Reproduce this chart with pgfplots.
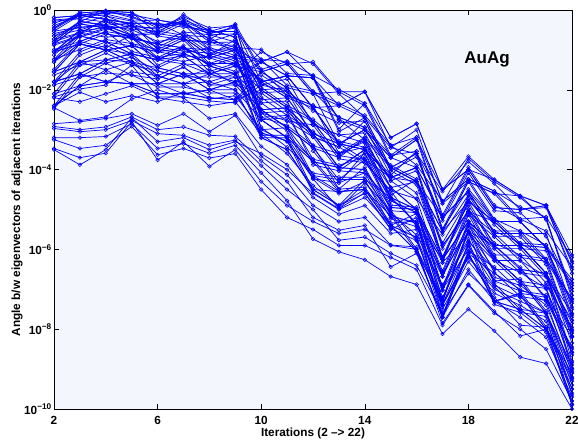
\documentclass[border=0pt]{standalone}
\usepackage{fontspec}
\setmainfont{Liberation Sans}
\usepackage{pgfplots}
\usepackage{pgfplotstable}
\pgfplotsset{compat=1.18}
\definecolor{bgc}{RGB}{243,247,253}
% one row per series, columns = iterations 2..22, values = log10(angle)
\pgfplotstableread[header=has colnames]{
2 3 4 5 6 7 8 9 10 11 12 13 14 15 16 17 18 19 20 21 22
-0.25 -0.20 -0.05 -0.12 -0.25 -0.35 -0.60 -0.42 -1.55 -1.95 -2.80 -3.65 -3.25 -3.95 -3.60 -5.55 -4.80 -5.30 -5.30 -5.95 -7.70
-0.45 -0.08 -0.02 -0.15 -0.45 -0.17 -0.45 -0.40 -2.50 -2.95 -3.45 -3.70 -3.20 -4.45 -5.00 -6.95 -5.30 -5.90 -6.50 -7.20 -8.50
-0.28 -0.22 -0.30 -0.40 -0.48 -0.20 -0.62 -0.80 -1.55 -1.35 -1.30 -2.05 -2.05 -3.20 -2.85 -4.50 -3.67 -4.25 -4.66 -4.90 -6.14
-0.45 -0.05 -0.10 -0.25 -0.65 -0.75 -0.80 -0.60 -3.00 -2.95 -3.80 -4.55 -4.50 -5.40 -5.70 -7.70 -6.10 -7.30 -7.10 -7.20 -8.20
-0.85 -0.35 -0.15 -0.28 -0.25 -0.38 -0.58 -0.45 -1.80 -1.65 -1.70 -3.05 -2.70 -3.45 -3.00 -4.85 -4.30 -5.30 -5.90 -5.95 -6.90
-0.48 -0.10 -0.15 -0.40 -0.65 -0.35 -1.00 -1.20 -2.50 -2.45 -3.40 -3.60 -3.30 -4.70 -5.00 -6.25 -4.80 -5.90 -6.45 -7.25 -8.45
-0.65 -0.35 -0.45 -0.70 -0.85 -0.55 -0.62 -0.60 -2.75 -3.20 -4.50 -4.90 -4.50 -5.40 -6.05 -7.70 -6.10 -7.30 -7.15 -8.00 -9.30
-0.85 -0.65 -0.45 -0.42 -0.45 -0.32 -0.80 -1.00 -1.30 -1.05 -1.35 -2.10 -2.70 -3.95 -3.60 -4.85 -3.72 -4.30 -4.70 -5.25 -7.05
-0.88 -0.68 -0.48 -0.40 -0.85 -0.95 -1.20 -1.00 -1.80 -2.20 -3.10 -3.95 -3.50 -4.20 -3.95 -5.90 -5.05 -5.60 -5.60 -6.30 -8.10
-1.05 -0.50 -0.30 -0.55 -1.05 -0.75 -0.82 -0.80 -2.75 -3.20 -3.80 -3.95 -3.50 -4.70 -5.35 -7.30 -5.55 -6.20 -6.80 -7.60 -8.90
-0.65 -0.50 -0.60 -0.70 -0.85 -0.55 -1.00 -1.20 -1.80 -1.65 -1.70 -2.40 -2.05 -3.45 -3.60 -4.55 -3.80 -4.35 -5.00 -4.95 -6.50
-1.05 -0.52 -0.45 -0.70 -1.25 -1.35 -1.40 -1.20 -2.50 -2.45 -3.10 -3.95 -4.00 -4.95 -5.00 -7.30 -5.55 -6.50 -6.50 -6.60 -7.60
-1.55 -0.85 -0.60 -0.72 -0.85 -0.95 -1.20 -1.00 -2.00 -1.95 -2.10 -3.35 -3.00 -3.70 -3.25 -5.20 -4.55 -5.60 -6.20 -6.30 -7.30
-0.85 -0.35 -0.45 -0.70 -1.05 -0.75 -1.40 -1.60 -3.20 -3.50 -4.50 -4.90 -4.25 -5.40 -6.05 -7.70 -5.80 -7.30 -7.50 -8.00 -9.80
-1.30 -0.85 -1.00 -1.30 -1.45 -1.15 -1.20 -1.20 -1.30 -1.65 -2.45 -3.35 -3.00 -3.95 -4.30 -5.90 -5.05 -5.30 -5.30 -5.95 -6.75
-1.55 -1.30 -1.00 -0.90 -1.05 -0.95 -1.40 -1.60 -2.25 -2.20 -2.45 -3.35 -3.75 -4.95 -5.00 -6.25 -4.80 -5.30 -5.90 -6.60 -8.35
-1.30 -0.65 -0.80 -1.10 -1.25 -0.95 -1.20 -1.40 -3.20 -3.20 -3.80 -3.95 -4.00 -5.15 -6.05 -7.30 -5.55 -6.85 -7.50 -7.60 -9.05
-1.05 -0.85 -1.00 -0.90 -1.05 -1.15 -1.60 -1.60 -1.30 -1.05 -1.70 -2.75 -3.00 -3.70 -3.25 -4.50 -4.00 -4.95 -5.00 -4.90 -6.35
-1.80 -1.05 -0.80 -0.90 -1.45 -1.60 -1.60 -1.40 -1.55 -1.95 -2.80 -3.35 -3.50 -4.20 -3.95 -6.25 -5.30 -5.90 -5.90 -6.60 -7.85
-1.55 -1.30 -1.25 -1.10 -1.25 -0.95 -1.40 -1.60 -2.75 -3.20 -4.15 -4.25 -3.75 -4.70 -5.35 -6.25 -5.30 -6.20 -6.80 -7.60 -9.65
-1.05 -0.85 -1.00 -1.10 -1.65 -1.35 -1.60 -1.80 -1.30 -1.65 -2.45 -2.40 -2.70 -3.95 -4.30 -5.55 -4.30 -4.60 -4.66 -5.25 -7.15
-2.10 -1.90 -1.50 -1.30 -1.65 -1.85 -1.60 -1.40 -2.00 -2.45 -2.80 -3.65 -3.75 -4.20 -4.30 -6.25 -5.30 -5.90 -5.90 -5.95 -7.50
-1.80 -1.30 -1.00 -0.90 -1.45 -1.60 -2.00 -2.00 -3.20 -3.50 -4.50 -4.55 -4.50 -5.40 -5.70 -7.30 -5.55 -7.30 -7.50 -8.00 -9.50
-1.55 -0.85 -1.00 -1.30 -1.85 -1.85 -1.80 -1.60 -1.05 -1.35 -2.10 -2.40 -2.05 -3.20 -2.85 -4.50 -4.00 -4.95 -5.00 -4.90 -6.30
-2.10 -1.30 -1.50 -1.85 -1.85 -1.60 -1.80 -2.00 -2.75 -2.70 -3.10 -3.35 -3.50 -4.70 -5.35 -6.60 -5.05 -6.20 -6.80 -6.90 -7.95
-1.80 -1.60 -1.80 -1.55 -1.65 -1.85 -2.20 -2.25 -1.80 -1.65 -2.45 -3.35 -3.50 -4.20 -3.95 -5.20 -4.55 -5.60 -5.60 -5.60 -7.45
-2.40 -1.60 -1.25 -1.30 -1.85 -2.10 -2.00 -1.80 -2.50 -2.95 -4.15 -4.55 -4.50 -5.15 -5.35 -7.70 -6.10 -7.30 -7.10 -8.00 -9.10
-2.40 -1.90 -1.80 -1.85 -1.85 -1.60 -2.00 -2.25 -2.00 -2.45 -3.10 -3.35 -3.00 -3.95 -4.30 -5.20 -4.55 -5.30 -5.90 -6.60 -8.65
-1.80 -1.60 -1.80 -1.85 -2.10 -2.10 -2.20 -2.25 -1.55 -1.35 -2.10 -2.05 -2.40 -3.70 -3.95 -5.20 -4.00 -4.25 -4.66 -4.90 -6.60
-2.40 -1.90 -1.80 -1.85 -2.10 -2.10 -2.00 -1.80 -2.50 -2.95 -3.45 -4.25 -4.25 -4.70 -5.00 -6.95 -5.80 -6.50 -6.50 -6.60 -8.80
-1.05 -0.65 -0.80 -1.10 -1.25 -0.95 -1.00 -1.00 -1.80 -2.20 -3.10 -3.95 -3.50 -4.45 -5.00 -6.60 -5.55 -5.90 -5.90 -6.60 -8.00
-1.80 -1.60 -1.25 -1.10 -1.25 -1.15 -1.60 -1.80 -1.80 -1.65 -1.70 -2.75 -3.25 -4.45 -4.30 -5.55 -4.30 -4.60 -5.30 -5.95 -7.35
-0.53 -0.13 -0.23 -0.48 -0.53 -0.25 -0.50 -0.68 -2.08 -2.03 -3.18 -3.43 -2.78 -4.03 -4.38 -6.33 -4.63 -5.68 -5.68 -6.38 -8.18
-0.19 -0.14 -0.02 -0.06 -0.59 -0.29 -0.54 -0.36 -1.49 -2.14 -2.39 -2.69 -2.94 -4.14 -3.54 -5.49 -4.24 -5.24 -5.84 -5.89 -6.84
-0.73 -0.28 -0.38 -0.33 -0.33 -0.63 -1.08 -0.88 -2.33 -2.78 -2.88 -3.73 -3.83 -4.53 -5.43 -6.68 -5.13 -6.28 -6.28 -6.98 -8.98
-0.79 -0.29 -0.02 -0.19 -0.39 -0.29 -0.74 -0.94 -0.99 -1.59 -1.64 -2.99 -2.34 -3.64 -3.19 -5.14 -3.94 -4.89 -5.24 -5.19 -7.24
-1.13 -0.58 -0.68 -0.63 -0.93 -1.03 -1.08 -1.28 -2.58 -2.53 -3.88 -4.03 -4.08 -4.78 -5.08 -7.03 -5.38 -6.58 -7.18 -7.28 -8.58
-1.24 -0.59 -0.39 -0.84 -0.99 -0.69 -1.34 -1.14 -2.94 -3.44 -4.09 -4.19 -4.19 -5.09 -5.99 -7.24 -5.49 -6.79 -6.74 -7.54 -9.24
-0.53 -0.43 -0.38 -0.63 -0.93 -0.63 -0.88 -0.88 -1.88 -1.73 -2.88 -3.13 -3.33 -4.28 -4.03 -5.98 -4.88 -5.98 -5.98 -6.68 -7.78
-1.49 -0.79 -0.94 -0.64 -1.19 -1.29 -1.14 -1.34 -1.49 -1.29 -2.04 -2.34 -2.64 -3.39 -3.89 -4.79 -4.24 -4.54 -5.24 -5.54 -6.44
-1.88 -1.13 -0.88 -1.18 -1.73 -1.43 -1.88 -1.68 -2.33 -2.28 -3.53 -4.33 -3.58 -5.03 -5.08 -6.33 -5.63 -6.28 -6.58 -6.68 -8.98
-0.59 -0.44 -0.39 -0.64 -0.59 -0.69 -1.14 -0.94 -2.69 -2.89 -3.39 -4.49 -3.94 -5.09 -5.64 -6.89 -5.74 -6.79 -7.04 -7.94 -9.24
-2.18 -1.38 -1.33 -1.18 -1.53 -1.68 -1.48 -1.88 -2.08 -2.53 -3.18 -3.43 -3.83 -4.53 -4.73 -6.68 -5.13 -5.68 -6.28 -6.68 -8.18
-0.79 -0.59 -0.24 -0.34 -0.99 -1.09 -0.94 -1.14 -1.24 -1.89 -2.04 -2.69 -2.94 -3.64 -3.54 -5.49 -4.49 -5.24 -5.54 -6.24 -7.24
-0.33 -0.13 -0.23 -0.33 -0.33 -0.43 -0.50 -0.68 -2.58 -2.78 -3.18 -4.03 -3.58 -4.78 -5.08 -6.68 -5.38 -6.28 -6.88 -6.98 -8.58
-1.24 -0.99 -0.74 -0.84 -1.19 -0.89 -1.54 -1.34 -1.74 -2.14 -2.39 -3.59 -3.19 -3.89 -4.24 -5.84 -4.74 -5.54 -5.54 -5.89 -7.64
-2.48 -1.68 -1.58 -1.63 -1.93 -1.93 -2.08 -2.08 -3.08 -3.28 -4.58 -4.98 -4.33 -5.03 -5.78 -7.38 -5.88 -7.38 -7.58 -7.68 -9.88
-0.99 -0.79 -0.54 -0.64 -1.39 -1.09 -1.34 -1.54 -3.14 -3.14 -3.74 -4.49 -4.44 -5.34 -5.29 -7.64 -6.04 -6.44 -7.04 -7.14 -8.84
-1.63 -1.38 -1.08 -1.38 -1.53 -1.68 -1.68 -1.68 -1.63 -2.03 -2.53 -2.83 -2.78 -4.03 -3.68 -5.28 -4.08 -5.03 -5.08 -5.68 -6.98
-0.39 -0.14 -0.24 -0.34 -0.59 -0.11 -0.54 -0.54 -1.24 -1.29 -1.64 -1.99 -2.34 -3.39 -3.19 -4.79 -4.24 -4.54 -4.94 -5.19 -6.20
-1.88 -1.68 -1.33 -1.63 -1.73 -1.43 -1.88 -1.88 -2.58 -3.03 -4.23 -4.33 -4.08 -5.23 -5.43 -7.03 -5.38 -5.98 -6.58 -6.98 -8.58
-0.79 -0.29 -0.39 -0.49 -0.79 -0.69 -1.14 -0.74 -1.94 -2.39 -2.74 -3.29 -3.44 -4.14 -4.59 -6.19 -4.99 -5.84 -6.14 -6.24 -8.04
-0.73 -0.58 -0.23 -0.63 -0.53 -0.63 -0.68 -1.08 -3.08 -3.28 -4.23 -4.98 -4.58 -5.48 -5.78 -7.38 -6.18 -6.93 -7.58 -8.08 -9.88
-1.24 -0.79 -0.54 -1.04 -1.19 -1.09 -1.34 -1.34 -2.19 -2.64 -3.04 -3.59 -3.44 -4.64 -4.24 -6.19 -4.74 -5.54 -5.84 -6.24 -7.24
-2.18 -1.98 -1.88 -1.38 -2.18 -2.18 -2.28 -2.33 -1.88 -2.03 -2.88 -3.13 -3.08 -4.28 -4.73 -5.63 -4.63 -5.38 -5.98 -6.03 -7.78
-0.19 -0.14 -0.09 -0.06 -0.39 -0.29 -0.74 -0.36 -2.69 -2.64 -3.74 -3.89 -3.69 -4.89 -4.94 -6.54 -4.99 -6.14 -6.14 -6.84 -8.04
-2.40 -2.06 -2.30 -2.15 -2.30 -2.06 -2.23 -2.15 -3.00 -3.30 -4.20 -4.60 -4.30 -5.20 -5.30 -7.20 -5.90 -6.90 -7.20 -7.60 -9.20
-2.45 -2.77 -2.68 -2.23 -2.00 -2.20 -2.72 -2.60 -3.42 -3.88 -4.70 -5.12 -4.90 -5.60 -5.50 -7.50 -6.30 -7.10 -7.40 -7.80 -9.50
-2.85 -2.80 -2.72 -2.60 -2.89 -2.60 -3.05 -2.64 -3.67 -4.13 -4.90 -5.30 -5.20 -5.89 -5.94 -7.85 -6.88 -7.55 -8.17 -8.00 -9.90
-2.92 -3.00 -2.93 -2.68 -3.00 -2.93 -3.14 -3.17 -3.78 -4.30 -5.20 -5.52 -5.40 -6.44 -6.10 -7.70 -6.50 -7.30 -7.70 -8.20 -9.70
-2.97 -3.05 -3.00 -2.77 -3.10 -3.14 -3.39 -3.26 -3.90 -4.50 -5.00 -5.77 -5.69 -6.10 -6.40 -7.60 -6.60 -7.20 -7.90 -7.95 -9.60
-3.20 -3.20 -3.17 -2.85 -3.47 -3.35 -3.59 -3.39 -4.08 -4.78 -5.74 -6.06 -6.26 -6.68 -6.88 -8.12 -7.50 -8.04 -8.70 -8.86 -10.0
-3.25 -3.47 -3.39 -2.92 -3.63 -3.47 -3.71 -3.60 -4.50 -5.20 -5.50 -5.90 -5.90 -6.20 -6.50 -7.90 -6.90 -7.60 -8.00 -8.50 -9.80
-3.47 -3.70 -3.59 -2.80 -3.76 -3.30 -3.92 -3.50 -4.30 -4.90 -5.30 -5.60 -5.50 -5.90 -6.00 -7.40 -6.20 -7.00 -7.30 -7.60 -9.40
-3.50 -3.88 -3.50 -2.70 -3.30 -3.20 -3.50 -3.30 -3.60 -4.00 -4.60 -5.00 -4.70 -5.40 -5.10 -7.00 -6.00 -6.70 -6.90 -7.40 -9.00
-2.20 -2.30 -2.10 -1.90 -2.20 -2.30 -2.40 -2.30 -3.10 -3.60 -4.40 -4.90 -4.60 -5.50 -5.20 -7.40 -6.10 -6.60 -7.00 -7.30 -9.10
}\rawdata
\pgfplotstabletranspose{\angdata}{\rawdata}

\begin{document}
\begin{tikzpicture}
\begin{axis}[
  scale only axis, width=518pt, height=399pt,
  xmin=2, xmax=22, ymin=-10, ymax=0,
  xtick={2,6,10,14,18,22},
  ytick={-10,-8,-6,-4,-2,0},
  yticklabels={10\textsuperscript{−10},10\textsuperscript{−8},10\textsuperscript{−6},10\textsuperscript{−4},10\textsuperscript{−2},10\textsuperscript{0}},
  /pgf/number format/assume math mode=true,
  axis background/.style={fill=bgc},
  axis line style={line width=0.9pt},
  tick style={black, line width=0.6pt},
  major tick length=5pt,
  tick pos=both,
  tick label style={font=\fontsize{11.8}{12}\selectfont\bfseries},
  xticklabel style={anchor=base, yshift=-15.3pt, inner sep=0pt},
  yticklabel style={inner sep=2pt},
  label style={font=\fontsize{11.8}{12}\selectfont\bfseries},
  xlabel={Iterations (2 --> 22)},
  ylabel={Angle b/w eigenvectors of adjacent iterations},
  xlabel style={at={(axis description cs:0.5,-0.0695)}, anchor=base, inner sep=0pt},
  ylabel style={at={(axis description cs:-0.0656,0.5)}, anchor=base},
  clip=false,
]
\pgfplotsinvokeforeach{1,...,66}{
  \addplot[blue, line width=0.7pt, mark=o, mark size=1.8pt, mark options={solid, line width=0.55pt}]
    table[x index=0, y index=#1] {\angdata};
}
\node[font=\fontsize{17}{17}\selectfont\bfseries, anchor=base] at (axis cs:18.72,-1.35) {AuAg};
\coordinate (sw) at (rel axis cs:0,0);
\coordinate (ne) at (rel axis cs:1,1);
\end{axis}
\pgfresetboundingbox
\path[use as bounding box] ([shift={(-54pt,-31pt)}]sw) rectangle ([shift={(6pt,10pt)}]ne);
\end{tikzpicture}
\end{document}
